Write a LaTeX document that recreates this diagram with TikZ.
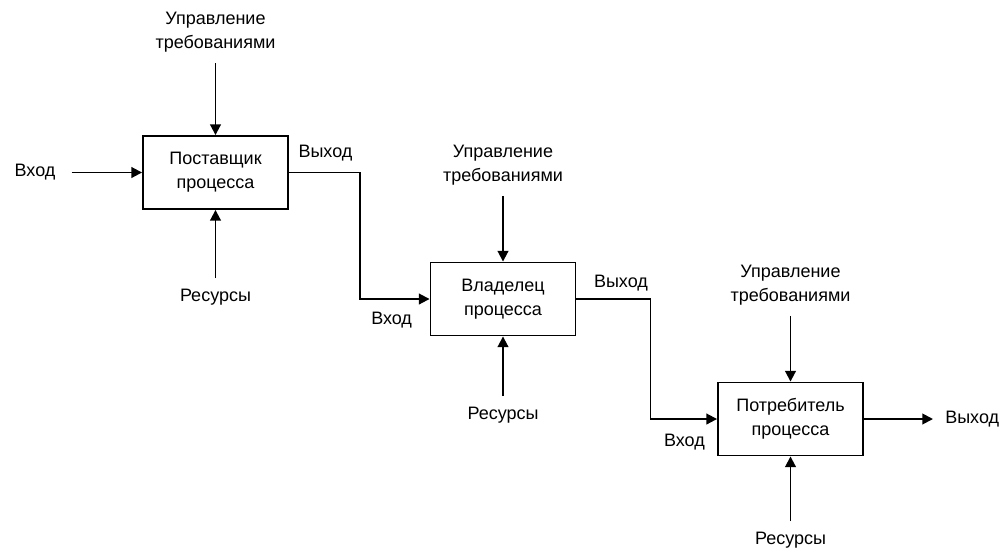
\documentclass[tikz,border=0pt]{standalone}
\usepackage{fontspec}
\setmainfont{Liberation Sans}
\usetikzlibrary{arrows.meta,positioning}

\begin{document}
\begin{tikzpicture}[x=0.75pt,y=-0.75pt,
    font=\fontsize{13.5}{18}\selectfont,
    box/.style={draw, line width=1.4pt, minimum width=108.75pt, minimum height=54.75pt, align=center, inner sep=0pt},
    lbl/.style={align=center, inner sep=0pt},
    arr/.style={line width=1.4pt, -{Triangle[length=8pt,width=8pt]}},
    feed/.style={arr, shorten <=8pt}]
        \useasboundingbox (0,0) rectangle (1002,550);

        % Process boxes
        \node[box] (supplier) at (215.5,172.5) {Поставщик\\процесса};
        \node[box] (owner) at (503,299) {Владелец\\процесса};
        \node[box] (consumer) at (790.5,419) {Потребитель\\процесса};

        % Controls and resources of the supplier
        \node[lbl] (ctrlA) at (215.5,32.5) {Управление\\требованиями};
        \node[lbl] (resA) at (215.5,297) {Ресурсы};
        \draw[feed] (ctrlA) -- (supplier);
        \draw[feed] (resA) -- (supplier);

        % Controls and resources of the owner
        \node[lbl] (ctrlB) at (503,165) {Управление\\требованиями};
        \node[lbl] (resB) at (503,415) {Ресурсы};
        \draw[feed] (ctrlB) -- (owner);
        \draw[feed] (resB) -- (owner);

        % Controls and resources of the consumer
        \node[lbl] (ctrlC) at (790.5,285) {Управление\\требованиями};
        \node[lbl] (resC) at (790.5,540) {Ресурсы};
        \draw[feed] (ctrlC) -- (consumer);
        \draw[feed] (resC) -- (consumer);

        % Input and output of the chain
        \node[lbl] (inA) at (35,172.5) {Вход};
        \draw[arr, shorten <=12pt] (inA) -- (supplier);
        \node[lbl, anchor=west] (outC) at (945,419) {Выход};
        \draw[arr, shorten >=9pt] (consumer) -- (outC);

        % Links between the processes
        \draw[arr] (supplier.east) -- ++(71,0) |- (owner.west);
        \draw[arr] (owner.east) -- ++(74,0) |- (consumer.west);

        % Labels on the links
        \node[lbl, above right=8pt and 7pt of supplier.east] (outA) {Выход};
        \node[lbl, below left=10pt and 13pt of owner.west] (inB) {Вход};
        \node[lbl, above right=6pt and 13pt of owner.east] (outB) {Выход};
        \node[lbl, below left=11pt and 9pt of consumer.west] (inC) {Вход};
\end{tikzpicture}
\end{document}
